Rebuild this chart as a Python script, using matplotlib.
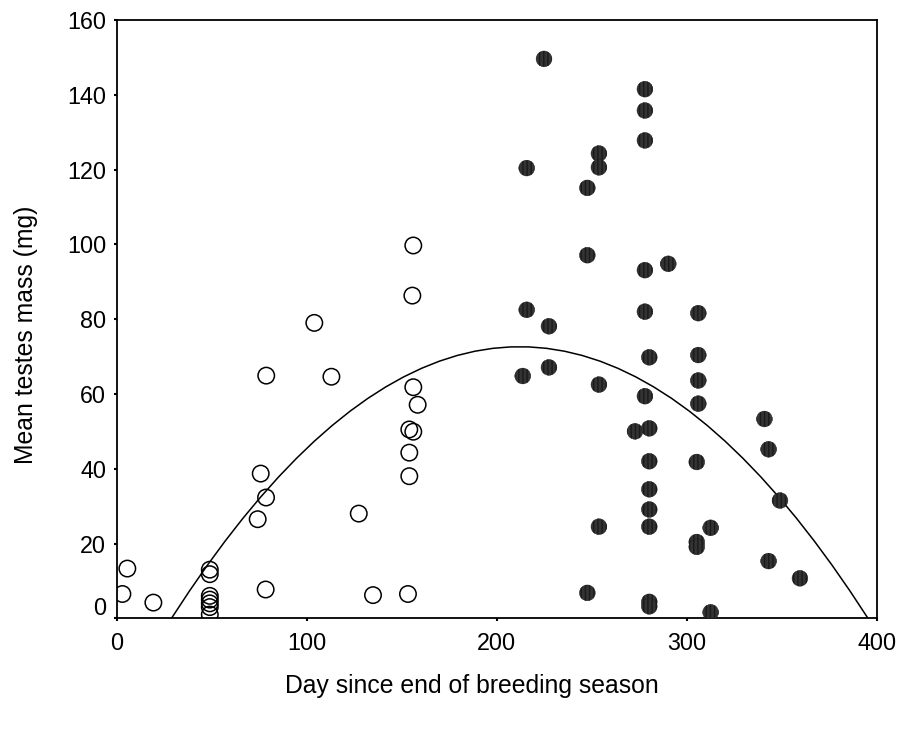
import numpy as np
import matplotlib
matplotlib.use("Agg")
import matplotlib.pyplot as plt
from matplotlib.transforms import ScaledTranslation

plt.rcParams['font.family'] = ['Liberation Sans', 'DejaVu Sans']

# Open circles (non-breeding period)
open_day = [3, 5.6, 19.3, 49, 49, 49, 49, 49, 49, 49, 75.8, 78.6, 74.2, 78.4, 78.7,
            104, 113, 127.4, 134.9, 153.3, 156.1, 155.6, 156.1, 158.4, 154, 156.1,
            154, 154]
open_mass = [6.5, 13.3, 4.2, 13, 11.8, 6, 5, 4, 3, 1, 38.7, 32.3, 26.5, 7.7, 64.9,
             79, 64.6, 28, 6.2, 6.5, 99.7, 86.3, 61.8, 57.1, 50.5, 49.9,
             44.3, 38.0]

# Filled circles (breeding period)
fill_day = [224.9, 278, 278, 278, 253.8, 253.8, 215.8, 247.7, 247.7, 278, 215.8,
            278, 227.5, 280.3, 227.5, 213.7, 253.8, 278, 272.8, 280.3, 280.3,
            280.3, 280.3, 280.3, 253.8, 247.7, 280.3, 280.3, 290.3, 306.1,
            306.1, 306.1, 306.1, 305.3, 305.3, 305.3, 340.9, 343.1, 349.1,
            312.6, 343.1, 359.6, 312.6]
fill_mass = [149.6, 141.5, 135.8, 127.8, 124.3, 120.6, 120.4, 115.1, 97.1, 93.1, 82.5,
             82.0, 78.1, 69.8, 67.1, 64.8, 62.5, 59.4, 50.0, 50.8, 42.0,
             34.5, 29.1, 24.5, 24.5, 6.8, 4.4, 3.2, 94.8, 81.6,
             70.4, 63.6, 57.4, 41.8, 20.4, 19.1, 53.3, 45.2, 31.5,
             24.2, 15.3, 10.7, 1.6]

# Quadratic fit line coefficients: mass = a + b*day + c*day^2
fit_a, fit_b, fit_c = -24.65, 0.9172, -0.002162

x_ticks = [0, 100, 200, 300, 400]
y_ticks = [0, 20, 40, 60, 80, 100, 120, 140, 160]

fig = plt.figure(figsize=(9.03, 7.35), dpi=100)
W, H = 903, 735
ax = fig.add_axes([116.7 / W, 1 - 618.3 / H, (876.7 - 116.7) / W, (618.3 - 20) / H])

roots = np.sort(np.roots([fit_c, fit_b, fit_a]).real)
xs = np.linspace(roots[0], roots[1], 40)
ax.plot(xs, fit_a + fit_b * xs + fit_c * xs ** 2, color='black', lw=1.1, zorder=2)

ax.scatter(open_day, open_mass, s=140, facecolors='none', edgecolors='black',
           linewidths=1.1, zorder=3)
ax.scatter(fill_day, fill_mass, s=130, facecolors='#333333', edgecolors='#1a1a1a',
           linewidths=0.3, hatch='||||', zorder=3)

ax.set_xlim(0, 400)
ax.set_ylim(0, 160)
ax.set_xticks(x_ticks)
ax.set_yticks(y_ticks)
ax.set_xticklabels([str(v) for v in x_ticks])
ax.set_yticklabels([str(v) for v in y_ticks])
ax.tick_params(axis='both', direction='out', length=2.5, width=1.5, labelsize=16.8,
               colors='black')
ax.tick_params(axis='x', pad=7.5)
ax.tick_params(axis='y', pad=5)
for s in ax.spines.values():
    s.set_linewidth(1.3)
    s.set_color('black')

# shift the "0" y tick label upward as in the reference
lab0 = ax.get_yticklabels()[0]
lab0.set_transform(lab0.get_transform() + ScaledTranslation(0, 12 / 100, fig.dpi_scale_trans))

fig.text(472 / W, 1 - 686 / H, 'Day since end of breeding season', ha='center', va='center',
         fontsize=17.8)
fig.text(26 / W, 1 - 335 / H, 'Mean testes mass (mg)', ha='center', va='center',
         rotation=90, fontsize=17.8)

fig.savefig('out.png', dpi=100)
